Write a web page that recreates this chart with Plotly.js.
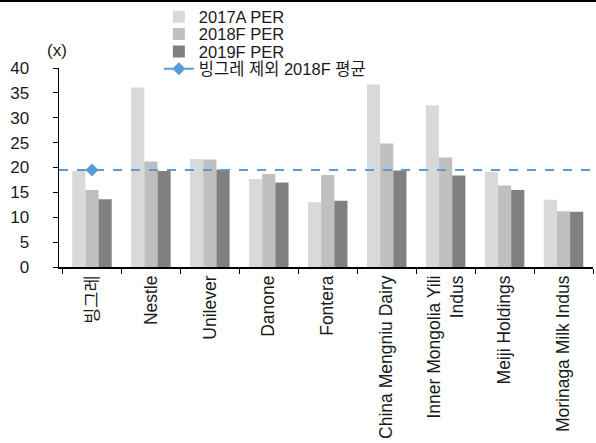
<!DOCTYPE html>
<html><head><meta charset="utf-8">
<script src="https://cdn.plot.ly/plotly-3.0.1.min.js"></script>
<style>
html,body{margin:0;padding:0;background:#fff;}
#top{width:596px;height:0;border-top:2px solid #000;}
#chart{width:596px;height:441px;}
</style></head>
<body><div id="top"></div><div id="chart"></div>
<script>
const categories = ['빙그레','Nestle','Unilever','Danone','Fontera','China Mengniu Dairy','Inner Mongolia Yili<br>Indus','Meiji Holdings','Morinaga Milk Indus'];
const per2017A = [19.3, 36.1, 21.7, 17.7, 13.0, 36.7, 32.5, 19.1, 13.5];
const per2018F = [15.5, 21.2, 21.6, 18.7, 18.5, 24.8, 22.0, 16.4, 11.2];
const per2019F = [13.6, 19.3, 19.6, 17.0, 13.3, 19.4, 18.4, 15.5, 11.1];
const avgExBinggrae2018F = 19.5;
const seriesNames = ['2017A PER','2018F PER','2019F PER','빙그레 제외 2018F 평균'];

const fam = '"Liberation Sans", "Noto Sans CJK KR", Arial, sans-serif';
const txt = '#1a1a1a';
const blue = '#5b9bd5';

const traces = [
  {type:'bar', name:seriesNames[0], x:categories, y:per2017A, marker:{color:'#d9d9d9'}, legend:'legend'},
  {type:'bar', name:seriesNames[1], x:categories, y:per2018F, marker:{color:'#bfbfbf'}, legend:'legend2'},
  {type:'bar', name:seriesNames[2], x:categories, y:per2019F, marker:{color:'#808080'}, legend:'legend3'},
  {type:'scatter', mode:'lines', x:[0,1], y:[avgExBinggrae2018F, avgExBinggrae2018F], xaxis:'x2',
   line:{color:blue, width:2, dash:'dash'}, showlegend:false, hoverinfo:'skip'},
  {type:'scatter', mode:'lines+markers', name:seriesNames[3], x:[categories[0]], y:[avgExBinggrae2018F],
   line:{color:blue, width:2}, marker:{symbol:'diamond', size:10, color:blue}, legend:'legend4'}
];

function leg(yv){
  return {x:0.187, xanchor:'left', y:yv, yanchor:'middle', yref:'container', bgcolor:'rgba(0,0,0,0)',
          font:{family:fam, size:16.5, color:txt}, itemwidth:30, borderwidth:0};
}

const layout = {
  width:596, height:441,
  margin:{l:59, r:3, t:66, b:176, autoexpand:false},
  paper_bgcolor:'#fff', plot_bgcolor:'#fff',
  font:{family:fam, size:15, color:txt},
  barmode:'group', bargap:0.33, bargroupgap:0,
  showlegend:true,
  legend:leg(0.966), legend2:leg(0.927), legend3:leg(0.887), legend4:leg(0.848),
  xaxis:{type:'category', showline:true, linecolor:'#000', linewidth:1.5, ticks:'outside', tickson:'boundaries',
         ticklen:5, tickcolor:'#000', tickangle:-90, showgrid:false, zeroline:false, automargin:false,
         tickfont:{family:fam, size:17.5, color:txt}},
  xaxis2:{overlaying:'x', range:[0,1], visible:false, fixedrange:true},
  yaxis:{range:[0,40], dtick:5, showline:true, linecolor:'#000', linewidth:1.5, ticks:'outside', ticklen:5,
         tickcolor:'#000', showgrid:false, zeroline:false, ticklabelstandoff:20, automargin:false,
         tickfont:{family:fam, size:17, color:txt}},
  annotations:[{text:'(x)', xref:'paper', yref:'paper', x:-0.003, y:1.09, xanchor:'center', yanchor:'middle',
                showarrow:false, font:{family:fam, size:17, color:txt}}]
};

Plotly.newPlot('chart', traces, layout, {displayModeBar:false, staticPlot:true});
</script></body></html>
